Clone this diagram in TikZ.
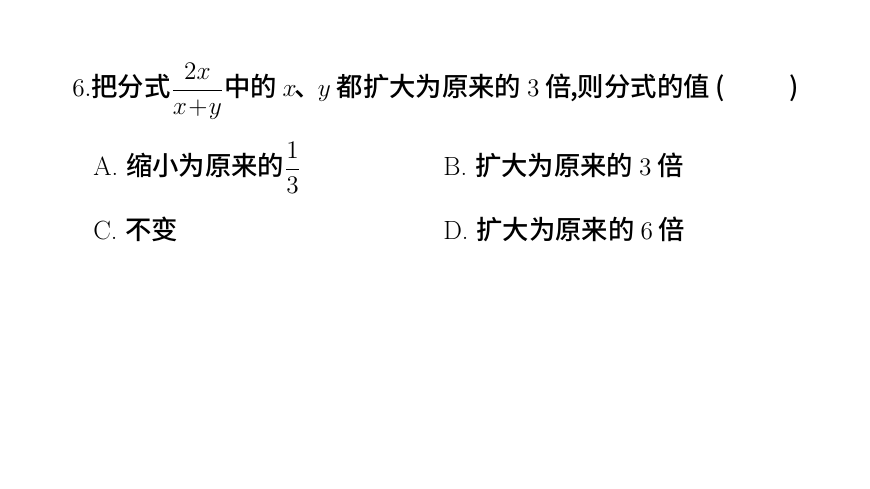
\documentclass[tikz,border=0pt]{standalone}
\usepackage{amsmath}
\usepackage{fontspec}
\newfontfamily\cjk{Noto Sans CJK SC Medium}
\begin{document}
\begin{tikzpicture}[x=0.02cm,y=-0.02cm,
  txt/.style={anchor=base west,inner sep=0pt,font=\fontsize{15}{18}\selectfont}]
\useasboundingbox (0,0) rectangle (870,489);
\node[txt] (q) at (72,97) {$6.$\cjk 把分式$\dfrac{2x}{x\!+\!y}$中的 $x$\kern-1pt、\kern-2pt$y$ 都扩大为原来的 $3$ 倍\kern-1pt,则分式的值\ (\qquad\ \ )};
\node[txt] (a) at (93,176) {A.\ \cjk 缩小为原来的$\dfrac{1}{3}$};
\node[txt] (b) at (443,176) {B.\ \cjk 扩大为原来的 $3$ 倍};
\node[txt] (c) at (93,240) {C.\ \cjk 不变};
\node[txt] (d) at (443,240) {D.\ \cjk 扩大为原来的 $6$ 倍};
\end{tikzpicture}
\end{document}
